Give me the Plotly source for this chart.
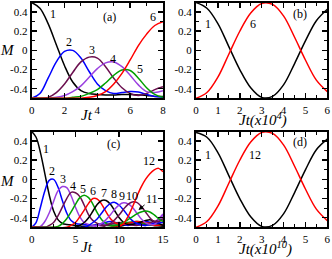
import plotly.graph_objects as go

FONT = "Liberation Serif"
BLACK = "#000000"
BLUE = "#0000ff"
VIOLET = "#9a3fe0"
MAROON = "#6b0f4f"
GREEN = "#00a000"
RED = "#ff0000"

# ---------------- panel (a) ----------------
a_t = [0, 0.5, 1, 1.5, 2, 2.5, 3, 3.5, 4, 4.5, 5, 5.5, 6, 6.5, 7, 7.5, 8]
a_M1 = [0.5, 0.44, 0.28, 0.06, -0.16, -0.33, -0.42, -0.45, -0.46, -0.465, -0.465, -0.46, -0.46, -0.465, -0.47, -0.48, -0.48]
a_M2 = [-0.5, -0.45, -0.29, -0.12, -0.01, 0.0, -0.08, -0.22, -0.35, -0.42, -0.45, -0.44, -0.43, -0.435, -0.46, -0.48, -0.49]
a_M3 = [-0.5, -0.5, -0.49, -0.44, -0.35, -0.23, -0.12, -0.07, -0.08, -0.17, -0.29, -0.39, -0.45, -0.47, -0.45, -0.41, -0.38]
a_M4 = [-0.5, -0.5, -0.5, -0.49, -0.47, -0.43, -0.37, -0.28, -0.19, -0.13, -0.12, -0.17, -0.26, -0.36, -0.43, -0.44, -0.42]
a_M5 = [-0.5, -0.5, -0.5, -0.5, -0.5, -0.49, -0.48, -0.45, -0.41, -0.34, -0.26, -0.205, -0.21, -0.29, -0.39, -0.46, -0.49]
a_M6 = [-0.5, -0.5, -0.5, -0.5, -0.5, -0.5, -0.5, -0.49, -0.47, -0.43, -0.35, -0.24, -0.1, 0.05, 0.17, 0.26, 0.3]

# ---------------- panel (b) ----------------
b_t = [0, 0.5, 1, 1.5, 2, 2.5, 3, 3.5, 4, 4.5, 5, 5.5, 6]
b_M1 = [0.5, 0.44, 0.28, 0.04, -0.2, -0.39, -0.49, -0.48, -0.36, -0.14, 0.1, 0.31, 0.43]
b_M6 = [-0.5, -0.44, -0.28, -0.04, 0.2, 0.39, 0.49, 0.48, 0.36, 0.14, -0.1, -0.31, -0.43]

# ---------------- panel (c) ----------------
c1_t = [0, 0.5, 1, 1.5, 2, 2.5, 3, 3.5, 4, 5, 6, 7, 8, 9, 10, 11, 12, 13, 14, 15]
c1_M = [0.5, 0.44, 0.28, 0.06, -0.16, -0.33, -0.42, -0.46, -0.47, -0.48, -0.49, -0.48, -0.47, -0.48, -0.49, -0.47, -0.46, -0.47, -0.48, -0.49]
c2_t = [0, 0.5, 1, 1.5, 2, 2.5, 3, 3.5, 4, 4.5, 5, 6, 7, 8, 9, 10, 11, 12, 13, 14, 15]
c2_M = [-0.5, -0.45, -0.29, -0.12, -0.01, 0.0, -0.08, -0.22, -0.35, -0.43, -0.46, -0.47, -0.48, -0.46, -0.44, -0.46, -0.48, -0.46, -0.44, -0.46, -0.48]
c3_t = [0, 1, 1.5, 2, 2.5, 3, 3.5, 4, 4.5, 5, 5.5, 6, 6.5, 7, 8, 9, 10, 11, 12, 13, 14, 14.5, 15]
c3_M = [-0.5, -0.49, -0.44, -0.35, -0.23, -0.12, -0.075, -0.085, -0.17, -0.29, -0.39, -0.45, -0.47, -0.48, -0.48, -0.46, -0.47, -0.45, -0.47, -0.48, -0.45, -0.41, -0.36]
c4_t = [0, 1.5, 2, 2.5, 3, 3.5, 4, 4.5, 5, 5.5, 6, 6.5, 7, 7.5, 8, 9, 10, 11, 12, 13, 14, 15]
c4_M = [-0.5, -0.5, -0.48, -0.45, -0.38, -0.29, -0.2, -0.135, -0.14, -0.18, -0.27, -0.37, -0.43, -0.46, -0.48, -0.47, -0.45, -0.47, -0.48, -0.46, -0.44, -0.41]
c5_t = [0, 3, 3.5, 4, 4.5, 5, 5.5, 6, 6.5, 7, 7.5, 8, 8.5, 9, 10, 11, 12, 13, 14, 15]
c5_M = [-0.5, -0.49, -0.46, -0.41, -0.34, -0.26, -0.19, -0.165, -0.19, -0.26, -0.35, -0.42, -0.46, -0.48, -0.47, -0.45, -0.44, -0.46, -0.48, -0.47]
c6_t = [0, 4, 4.5, 5, 5.5, 6, 6.5, 7, 7.5, 8, 8.5, 9, 9.5, 10, 11, 12, 13, 14, 15]
c6_M = [-0.5, -0.5, -0.48, -0.45, -0.39, -0.32, -0.25, -0.2, -0.205, -0.26, -0.34, -0.41, -0.45, -0.47, -0.46, -0.44, -0.45, -0.48, -0.47]
c7_t = [0, 5, 5.5, 6, 6.5, 7, 7.5, 8, 8.5, 9, 9.5, 10, 10.5, 11, 12, 13, 13.5, 14, 15]
c7_M = [-0.5, -0.5, -0.48, -0.45, -0.4, -0.33, -0.26, -0.22, -0.22, -0.26, -0.33, -0.4, -0.45, -0.47, -0.46, -0.43, -0.42, -0.44, -0.48]
c8_t = [0, 6, 6.5, 7, 7.5, 8, 8.5, 9, 9.5, 10, 10.5, 11, 11.5, 12, 13, 14, 15]
c8_M = [-0.5, -0.5, -0.48, -0.45, -0.41, -0.35, -0.29, -0.25, -0.24, -0.27, -0.32, -0.38, -0.43, -0.46, -0.48, -0.46, -0.45]
c9_t = [0, 7, 7.5, 8, 8.5, 9, 9.5, 10, 10.5, 11, 11.5, 12, 12.5, 13, 13.5, 14, 14.5, 15]
c9_M = [-0.5, -0.5, -0.48, -0.46, -0.42, -0.37, -0.31, -0.265, -0.245, -0.255, -0.29, -0.35, -0.41, -0.45, -0.47, -0.47, -0.43, -0.37]
c10_t = [0, 8, 8.5, 9, 9.5, 10, 10.5, 11, 11.5, 12, 12.5, 13, 13.5, 14, 14.5, 15]
c10_M = [-0.5, -0.5, -0.48, -0.46, -0.42, -0.37, -0.31, -0.26, -0.235, -0.24, -0.28, -0.34, -0.4, -0.44, -0.44, -0.42]
c11_t = [0, 9, 9.5, 10, 10.5, 11, 11.5, 12, 12.5, 13, 13.5, 14, 14.5, 15]
c11_M = [-0.5, -0.5, -0.49, -0.47, -0.45, -0.42, -0.39, -0.36, -0.34, -0.33, -0.34, -0.37, -0.41, -0.44]
c12_t = [0, 9.5, 10, 10.5, 11, 11.5, 12, 12.5, 13, 13.5, 14, 14.5, 15]
c12_M = [-0.5, -0.5, -0.49, -0.46, -0.39, -0.29, -0.18, -0.08, 0.0, 0.06, 0.1, 0.115, 0.08]

# ---------------- panel (d) ----------------
d_t = [0, 0.5, 1, 1.5, 2, 2.5, 3, 3.5, 4, 4.5, 5, 5.5, 6]
d_M1 = [0.49, 0.44, 0.28, 0.04, -0.2, -0.39, -0.49, -0.48, -0.36, -0.14, 0.1, 0.31, 0.42]
d_M12 = [-0.5, -0.44, -0.28, -0.04, 0.2, 0.39, 0.49, 0.48, 0.36, 0.14, -0.1, -0.31, -0.43]

# tick labels
y_ticks = [-0.4, -0.2, 0, 0.2, 0.4]
y_ticktext = ["-0.4", "-0.2", "0", "0.2", "0.4"]
a_xticks = [0, 2, 4, 6, 8]
b_xticks = [0, 1, 2, 3, 4, 5, 6]
c_xticks = [0, 5, 10, 15]

# curve labels (text, t, M)
a_labels = [("1", 1.3, 0.38), ("2", 2.27, 0.09), ("3", 3.67, 0.0), ("4", 4.95, -0.087),
            ("5", 6.6, -0.19), ("6", 7.39, 0.35), ("(a)", 4.77, 0.35)]
b_labels = [("1", 0.55, 0.28), ("6", 2.6, 0.28), ("(b)", 4.75, 0.38)]
c_labels = [("1", 1.6, 0.32), ("2", 2.28, 0.09), ("3", 3.61, 0.003), ("4", 4.75, -0.066),
            ("5", 5.9, -0.1), ("6", 7.04, -0.119), ("7", 8.26, -0.137), ("8", 9.4, -0.155),
            ("9", 10.3, -0.17), ("10", 11.42, -0.17), ("12", 13.43, 0.197), ("(c)", 9.33, 0.37)]
d_labels = [("1", 0.56, 0.25), ("12", 2.7, 0.25), ("(d)", 4.75, 0.39)]

fig = go.Figure()


def add(xs, ys, color, ax):
    fig.add_trace(go.Scatter(
        x=xs, y=ys, mode="lines",
        line=dict(color=color, width=1.5, shape="spline", smoothing=1.0),
        xaxis="x" + ax, yaxis="y" + ax, showlegend=False, hoverinfo="skip"))


for ys, col in [(a_M1, BLACK), (a_M2, BLUE), (a_M3, MAROON), (a_M4, VIOLET), (a_M5, GREEN), (a_M6, RED)]:
    add(a_t, ys, col, "")
add(b_t, b_M1, BLACK, "2")
add(b_t, b_M6, RED, "2")
for xs, ys, col in [(c1_t, c1_M, BLACK), (c2_t, c2_M, BLUE), (c3_t, c3_M, VIOLET), (c4_t, c4_M, MAROON),
                    (c5_t, c5_M, GREEN), (c6_t, c6_M, RED), (c7_t, c7_M, BLACK), (c8_t, c8_M, BLUE),
                    (c9_t, c9_M, VIOLET), (c10_t, c10_M, MAROON), (c11_t, c11_M, GREEN), (c12_t, c12_M, RED)]:
    add(xs, ys, col, "3")
add(d_t, d_M1, BLACK, "4")
add(d_t, d_M12, RED, "4")

W, H = 332, 259
xa_dom = [31.7 / W, 163.0 / W]
xb_dom = [196.0 / W, 327.3 / W]
ya_dom = [1 - 98.3 / H, 1 - 2.5 / H]
yc_dom = [1 - 227.3 / H, 1 - 131.5 / H]


def axis(domain, rng, tickvals, ticktext, minor_dtick, anchor):
    return dict(
        domain=domain, range=rng, anchor=anchor, automargin=False,
        showline=True, linecolor="black", linewidth=2, mirror="allticks",
        ticks="inside", ticklen=5, tickwidth=1.5, tickcolor="black",
        tickmode="array", tickvals=tickvals, ticktext=ticktext,
        showgrid=False, zeroline=False,
        tickfont=dict(family=FONT, size=11, color="black"),
        minor=dict(ticks="inside", ticklen=3, tickwidth=1, tickcolor="black",
                   tickmode="linear", tick0=0, dtick=minor_dtick, showgrid=False),
    )


layout = dict(
    width=W, height=H,
    margin=dict(l=0, r=0, t=0, b=0, autoexpand=False),
    paper_bgcolor="white", plot_bgcolor="white",
    showlegend=False, hovermode=False,
    xaxis=axis(xa_dom, [0, 8], a_xticks, [str(v) for v in a_xticks], 1, "y"),
    yaxis=axis(ya_dom, [-0.5, 0.5], y_ticks, y_ticktext, 0.1, "x"),
    xaxis2=axis(xb_dom, [0, 6], b_xticks, [str(v) for v in b_xticks], 0.5, "y2"),
    yaxis2=axis(ya_dom, [-0.5, 0.5], y_ticks, y_ticktext, 0.1, "x2"),
    xaxis3=axis(xa_dom, [0, 15], c_xticks, [str(v) for v in c_xticks], 2.5, "y3"),
    yaxis3=axis(yc_dom, [-0.5, 0.5], y_ticks, y_ticktext, 0.1, "x3"),
    xaxis4=axis(xb_dom, [0, 6], b_xticks, [str(v) for v in b_xticks], 0.5, "y4"),
    yaxis4=axis(yc_dom, [-0.5, 0.5], y_ticks, y_ticktext, 0.1, "x4"),
)
fig.update_layout(**layout)

lab_font = dict(family=FONT, size=12, color="black")
anns = []
for labs, ax in [(a_labels, ""), (b_labels, "2"), (c_labels, "3"), (d_labels, "4")]:
    for txt, x, y in labs:
        anns.append(dict(text=txt, x=x, y=y, xref="x" + ax, yref="y" + ax,
                         showarrow=False, font=lab_font))
# "11" label with arrow in panel (c)
anns.append(dict(text="11", x=12.2, y=-0.32, xref="x3", yref="y3",
                 ax=13.75, ay=-0.2, axref="x3", ayref="y3",
                 showarrow=True, arrowhead=2, arrowsize=1, arrowwidth=1,
                 arrowcolor="black", standoff=0, font=lab_font))

title_font = dict(family=FONT, size=15, color="black")
for txt, px, py in [("<i>M</i>", 7.5, 50), ("<i>M</i>", 7.5, 181),
                    ("<i>Jt</i>", 87, 115), ("<i>Jt</i>", 87, 247),
                    ("<i>Jt(x10<sup>4</sup>)</i>", 263, 120),
                    ("<i>Jt(x10<sup>10</sup>)</i>", 265, 248.5)]:
    anns.append(dict(text=txt, x=px / W, y=1 - py / H, xref="paper", yref="paper",
                     showarrow=False, font=title_font, xanchor="center", yanchor="middle"))

fig.update_layout(annotations=anns)
fig.write_html("out.html", config={"displayModeBar": False, "staticPlot": True},
               post_script="document.body.style.margin='0px';document.body.style.overflow='hidden';")
